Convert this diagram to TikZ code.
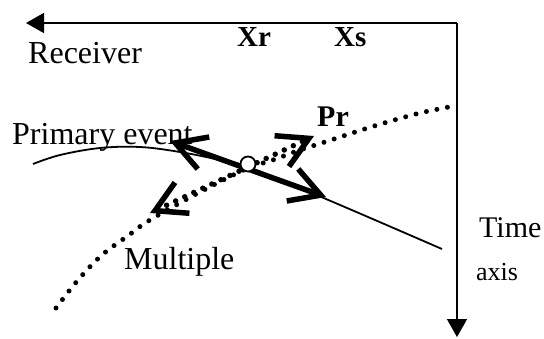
\documentclass[tikz,border=0pt]{standalone}
\usepackage{fontspec}
\setmainfont{Liberation Serif}
\usetikzlibrary{arrows.meta}
\begin{document}
\begin{tikzpicture}[x=1pt,y=-1pt,
  lbl/.style={inner sep=0pt, anchor=base west, font=\fontsize{32}{36}\selectfont},
  blbl/.style={inner sep=0pt, anchor=base west, font=\fontsize{29}{32}\selectfont\bfseries},
  axisline/.style={line width=1.6pt, -{Triangle[length=18pt,width=20pt]}},
  bigbarb/.style={line width=5.5pt, {Straight Barb[length=30pt,width=34pt]}-{Straight Barb[length=30pt,width=34pt]}},
  dotline/.style={line width=5pt, line cap=round, dash pattern=on 0pt off 10.7pt},
  dotarrow/.style={line width=5.5pt, line cap=round, dash pattern=on 0pt off 10pt, {Straight Barb[length=30pt,width=34pt]}-{Straight Barb[length=30pt,width=34pt]}},
  thinline/.style={line width=1.8pt},
]
\useasboundingbox (0,0) rectangle (544,338);
% axes
\coordinate (corner) at (457,23);
\coordinate (xend) at (26,23);
\coordinate (tend) at (457,337);
\draw[axisline] (corner) -- (xend);
\draw[axisline] (corner) -- (tend);
% labels
\node[lbl] (recv) at (28,63) {Receiver};
\node[blbl] (xr) at (237,46) {Xr};
\node[blbl] (xs) at (334,46) {Xs};
\node[blbl, font=\fontsize{30}{34}\selectfont\bfseries] (pr) at (317,126) {Pr};
\node[lbl] (prim) at (12,144) {Primary event};
\node[lbl] (mult) at (124,269) {Multiple};
\node[lbl, font=\fontsize{30}{34}\selectfont] (time) at (479,237) {Time};
\node[lbl, font=\fontsize{26}{30}\selectfont] (ax) at (476,280) {axis};
% primary event curve
\draw[thinline] plot[smooth, tension=0.6] coordinates {(33,164) (60,155) (100,148) (140,147) (180,152) (220,160) (248,167) (326,199) (442,249)};
% multiple curve
\draw[dotline] plot[smooth, tension=0.6] coordinates {(56,308) (78,280) (102,255) (129,235) (150,220) (200,192) (248,168) (270,161) (300,150) (328,141) (371,127) (416,114) (449,107)};
% arrows
\coordinate (pa) at (170,141);
\coordinate (pb) at (326,197);
\draw[bigbarb] (pa) -- (pb);
\coordinate (ma) at (150,213);
\coordinate (mb) at (314,136);
\draw[dotarrow] (ma) -- (mb);
% event point
\node[circle, draw, fill=white, line width=1.8pt, minimum size=15pt, inner sep=0pt] (ev) at (248,164) {};
\end{tikzpicture}
\end{document}
